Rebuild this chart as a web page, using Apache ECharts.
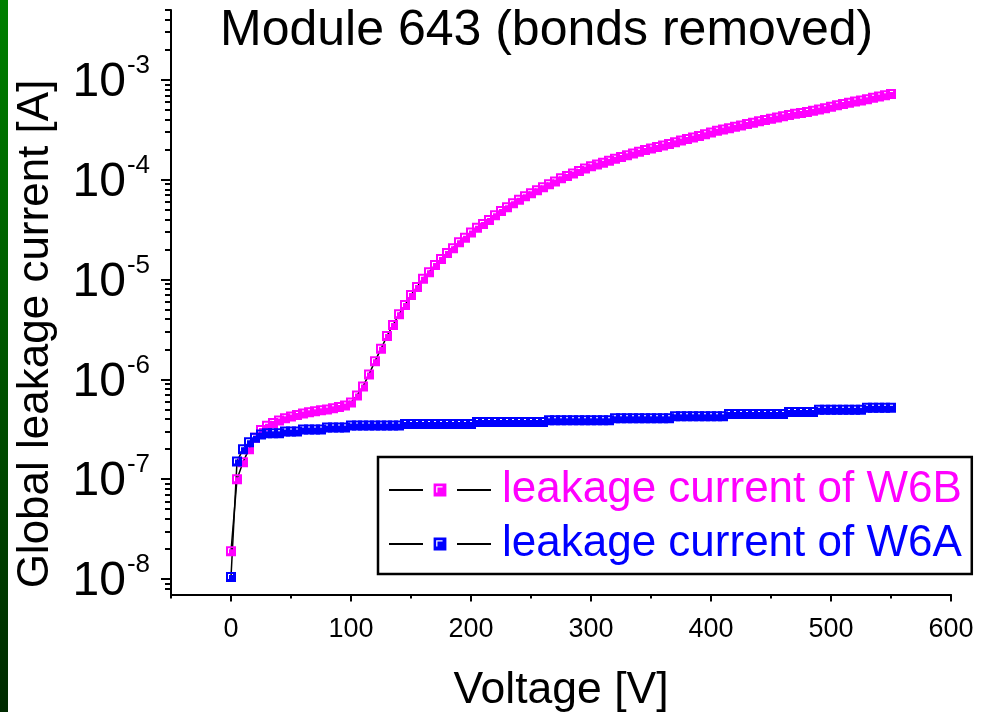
<!DOCTYPE html>
<html>
<head>
<meta charset="utf-8">
<script src="https://cdn.jsdelivr.net/npm/echarts@6/dist/echarts.min.js"></script>
<style>
  html, body { margin: 0; padding: 0; background: #fff; }
  #chart { width: 983px; height: 712px; }
</style>
</head>
<body>
<div id="chart"></div>
<script>
// Bias voltage steps [V]
const voltage = [
  0, 5, 10, 15, 20, 25, 30, 35, 40, 45,
  50, 55, 60, 65, 70, 75, 80, 85, 90, 95,
  100, 105, 110, 115, 120, 125, 130, 135, 140, 145,
  150, 155, 160, 165, 170, 175, 180, 185, 190, 195,
  200, 205, 210, 215, 220, 225, 230, 235, 240, 245,
  250, 255, 260, 265, 270, 275, 280, 285, 290, 295,
  300, 305, 310, 315, 320, 325, 330, 335, 340, 345,
  350, 355, 360, 365, 370, 375, 380, 385, 390, 395,
  400, 405, 410, 415, 420, 425, 430, 435, 440, 445,
  450, 455, 460, 465, 470, 475, 480, 485, 490, 495,
  500, 505, 510, 515, 520, 525, 530, 535, 540, 545,
  550
];

// Global leakage current of sensor W6B [A]
const currentW6B = [
  1.9e-8, 1.0e-7, 1.48e-7, 2.0e-7, 2.6e-7, 3.1e-7, 3.42e-7, 3.65e-7, 3.87e-7, 4.07e-7,
  4.25e-7, 4.4e-7, 4.55e-7, 4.68e-7, 4.8e-7, 4.9e-7, 5.0e-7, 5.12e-7, 5.28e-7, 5.48e-7,
  5.85e-7, 6.9e-7, 8.5e-7, 1.12e-6, 1.52e-6, 2.02e-6, 2.72e-6, 3.5e-6, 4.48e-6, 5.55e-6,
  7.0e-6, 8.4e-6, 1.02e-5, 1.18e-5, 1.4e-5, 1.6e-5, 1.84e-5, 2.06e-5, 2.36e-5, 2.62e-5,
  2.95e-5, 3.3e-5, 3.6e-5, 3.95e-5, 4.4e-5, 4.85e-5, 5.3e-5, 5.8e-5, 6.3e-5, 6.8e-5,
  7.3e-5, 7.85e-5, 8.4e-5, 9.0e-5, 9.6e-5, 1.03e-4, 1.09e-4, 1.15e-4, 1.22e-4, 1.29e-4,
  1.36e-4, 1.42e-4, 1.48e-4, 1.55e-4, 1.62e-4, 1.69e-4, 1.76e-4, 1.83e-4, 1.9e-4, 1.98e-4,
  2.05e-4, 2.12e-4, 2.2e-4, 2.28e-4, 2.37e-4, 2.46e-4, 2.55e-4, 2.65e-4, 2.74e-4, 2.85e-4,
  2.96e-4, 3.08e-4, 3.18e-4, 3.28e-4, 3.38e-4, 3.48e-4, 3.6e-4, 3.72e-4, 3.84e-4, 3.96e-4,
  4.08e-4, 4.2e-4, 4.32e-4, 4.44e-4, 4.56e-4, 4.64e-4, 4.76e-4, 4.9e-4, 5.04e-4, 5.2e-4,
  5.38e-4, 5.55e-4, 5.72e-4, 5.88e-4, 6.05e-4, 6.22e-4, 6.4e-4, 6.6e-4, 6.8e-4, 7.0e-4,
  7.2e-4
];

// Global leakage current of sensor W6A [A]
const currentW6A = [
  1.05e-8, 1.5e-7, 2.0e-7, 2.35e-7, 2.6e-7, 2.8e-7, 2.88e-7, 2.88e-7, 2.88e-7, 3.0e-7,
  3.0e-7, 3.0e-7, 3.14e-7, 3.14e-7, 3.14e-7, 3.14e-7, 3.3e-7, 3.3e-7, 3.3e-7, 3.3e-7,
  3.44e-7, 3.44e-7, 3.44e-7, 3.44e-7, 3.44e-7, 3.44e-7, 3.44e-7, 3.44e-7, 3.44e-7, 3.58e-7,
  3.58e-7, 3.58e-7, 3.58e-7, 3.58e-7, 3.58e-7, 3.58e-7, 3.58e-7, 3.58e-7, 3.58e-7, 3.58e-7,
  3.58e-7, 3.74e-7, 3.74e-7, 3.74e-7, 3.74e-7, 3.74e-7, 3.74e-7, 3.74e-7, 3.74e-7, 3.74e-7,
  3.74e-7, 3.74e-7, 3.74e-7, 3.9e-7, 3.9e-7, 3.9e-7, 3.9e-7, 3.9e-7, 3.9e-7, 3.9e-7,
  3.9e-7, 3.9e-7, 3.9e-7, 3.9e-7, 4.08e-7, 4.08e-7, 4.08e-7, 4.08e-7, 4.08e-7, 4.08e-7,
  4.08e-7, 4.08e-7, 4.08e-7, 4.08e-7, 4.28e-7, 4.28e-7, 4.28e-7, 4.28e-7, 4.28e-7, 4.28e-7,
  4.28e-7, 4.28e-7, 4.28e-7, 4.5e-7, 4.5e-7, 4.5e-7, 4.5e-7, 4.5e-7, 4.5e-7, 4.5e-7,
  4.5e-7, 4.5e-7, 4.5e-7, 4.72e-7, 4.72e-7, 4.72e-7, 4.72e-7, 4.72e-7, 4.96e-7, 4.96e-7,
  4.96e-7, 4.96e-7, 4.96e-7, 4.96e-7, 4.96e-7, 4.96e-7, 5.2e-7, 5.2e-7, 5.2e-7, 5.2e-7,
  5.2e-7
];

// Axis ticks
const xMajorTicks = [0, 100, 200, 300, 400, 500, 600];
const xMinorTicks = [-50, 50, 150, 250, 350, 450, 550];
const yMajorTicks = [1e-8, 1e-7, 1e-6, 1e-5, 1e-4, 1e-3];
const yMinorTicks = [
  8e-9, 9e-9,
  2e-8, 3e-8, 4e-8, 5e-8, 6e-8, 7e-8, 8e-8, 9e-8,
  2e-7, 3e-7, 4e-7, 5e-7, 6e-7, 7e-7, 8e-7, 9e-7,
  2e-6, 3e-6, 4e-6, 5e-6, 6e-6, 7e-6, 8e-6, 9e-6,
  2e-5, 3e-5, 4e-5, 5e-5, 6e-5, 7e-5, 8e-5, 9e-5,
  2e-4, 3e-4, 4e-4, 5e-4, 6e-4, 7e-4, 8e-4, 9e-4,
  2e-3, 3e-3, 4e-3, 5e-3
];

const seriesNames = ['leakage current of W6B', 'leakage current of W6A'];
const seriesColors = ['#ff00ff', '#0000ff'];

const FONT = '"Liberation Sans", Arial, Helvetica, sans-serif';
// filled square with a small white corner highlight
const MARKER = 'path://M0 0L10 0L10 10L0 10Z M2 2L2 7L3 7L3 3L7 3L7 2Z';

const chart = echarts.init(document.getElementById('chart'), null, { renderer: 'canvas' });

function pairs(ys) {
  return voltage.map((v, i) => [v, ys[i]]);
}

const tickLine = { color: '#000', width: 2 };

const option = {
  animation: false,
  backgroundColor: '#fff',
  textStyle: { fontFamily: FONT },
  title: {
    text: 'Module 643 (bonds removed)',
    left: 215,
    top: 1,
    textStyle: { fontFamily: FONT, fontSize: 50, fontWeight: 'normal', color: '#000' }
  },
  grid: { left: 171, right: 32, top: 10, bottom: 117.5, containLabel: false, outerBoundsMode: 'none' },
  xAxis: [
    {
      type: 'value',
      min: -50,
      max: 600,
      name: 'Voltage [V]',
      nameLocation: 'middle',
      nameGap: 74,
      nameTextStyle: { fontFamily: FONT, fontSize: 44.5, color: '#000' },
      axisLine: { show: true, onZero: false, lineStyle: { color: '#000', width: 2 } },
      axisTick: { show: true, length: 7, lineStyle: tickLine, customValues: xMajorTicks },
      axisLabel: { customValues: xMajorTicks, fontFamily: FONT, fontSize: 27, color: '#000', margin: 22 },
      splitLine: { show: false }
    },
    {
      type: 'value',
      min: -50,
      max: 600,
      position: 'bottom',
      axisLine: { show: false, onZero: false },
      axisTick: { show: true, length: 4, lineStyle: tickLine, customValues: xMinorTicks },
      axisLabel: { show: false },
      splitLine: { show: false }
    }
  ],
  yAxis: [
    {
      type: 'log',
      logBase: 10,
      min: 7e-9,
      max: 5e-3,
      axisLine: { show: true, onZero: false, lineStyle: { color: '#000', width: 2 } },
      axisTick: { show: true, length: 10, lineStyle: tickLine, customValues: yMajorTicks },
      axisLabel: {
        customValues: yMajorTicks,
        margin: 21,
        padding: [6, 0, 0, 0],
        formatter: function (v) {
          const e = Math.round(Math.log10(v));
          return '{b|10}{s|' + e + '}';
        },
        rich: {
          b: { fontFamily: FONT, fontSize: 48, color: '#000', lineHeight: 60 },
          s: { fontFamily: FONT, fontSize: 26, color: '#000', verticalAlign: 'top', lineHeight: 30, padding: [0, 0, 0, 1] }
        }
      },
      splitLine: { show: false }
    },
    {
      type: 'log',
      logBase: 10,
      min: 7e-9,
      max: 5e-3,
      position: 'left',
      axisLine: { show: false, onZero: false },
      axisTick: { show: true, length: 6, lineStyle: tickLine, customValues: yMinorTicks },
      axisLabel: { show: false },
      splitLine: { show: false }
    }
  ],
  legend: {
    orient: 'vertical',
    left: 378,
    top: 457,
    padding: [11, 10, 8, 10],
    itemGap: 10,
    itemWidth: 102,
    itemHeight: 16,
    borderColor: '#000',
    borderWidth: 2.5,
    backgroundColor: '#fff',
    lineStyle: { type: [34, 34], color: '#000', width: 2 },
    textStyle: { fontFamily: FONT, fontSize: 44, padding: [0, 0, 0, 6] },
    data: seriesNames.map((n, i) => ({ name: n, textStyle: { color: seriesColors[i] } }))
  },
  series: seriesNames.map((n, i) => ({
    name: n,
    type: 'line',
    xAxisIndex: 0,
    yAxisIndex: 0,
    data: pairs(i === 0 ? currentW6B : currentW6A),
    symbol: MARKER,
    symbolSize: 10,
    showAllSymbol: true,
    itemStyle: { color: seriesColors[i] },
    lineStyle: { color: '#000', width: 1.5 },
    emphasis: { disabled: true }
  })),
  graphic: [
    {
      type: 'rect',
      left: 0,
      top: 0,
      shape: { x: 0, y: 0, width: 8, height: 712 },
      style: {
        fill: new echarts.graphic.LinearGradient(0, 0, 0, 1, [
          { offset: 0, color: '#008000' },
          { offset: 1, color: '#002a00' }
        ])
      },
      silent: true
    },
    {
      type: 'text',
      x: 36,
      y: 334,
      rotation: Math.PI / 2,
      style: {
        text: 'Global leakage current [A]',
        font: '44px ' + FONT,
        fill: '#000',
        textAlign: 'center',
        textVerticalAlign: 'middle'
      },
      silent: true
    }
  ]
};

chart.setOption(option);
</script>
</body>
</html>
